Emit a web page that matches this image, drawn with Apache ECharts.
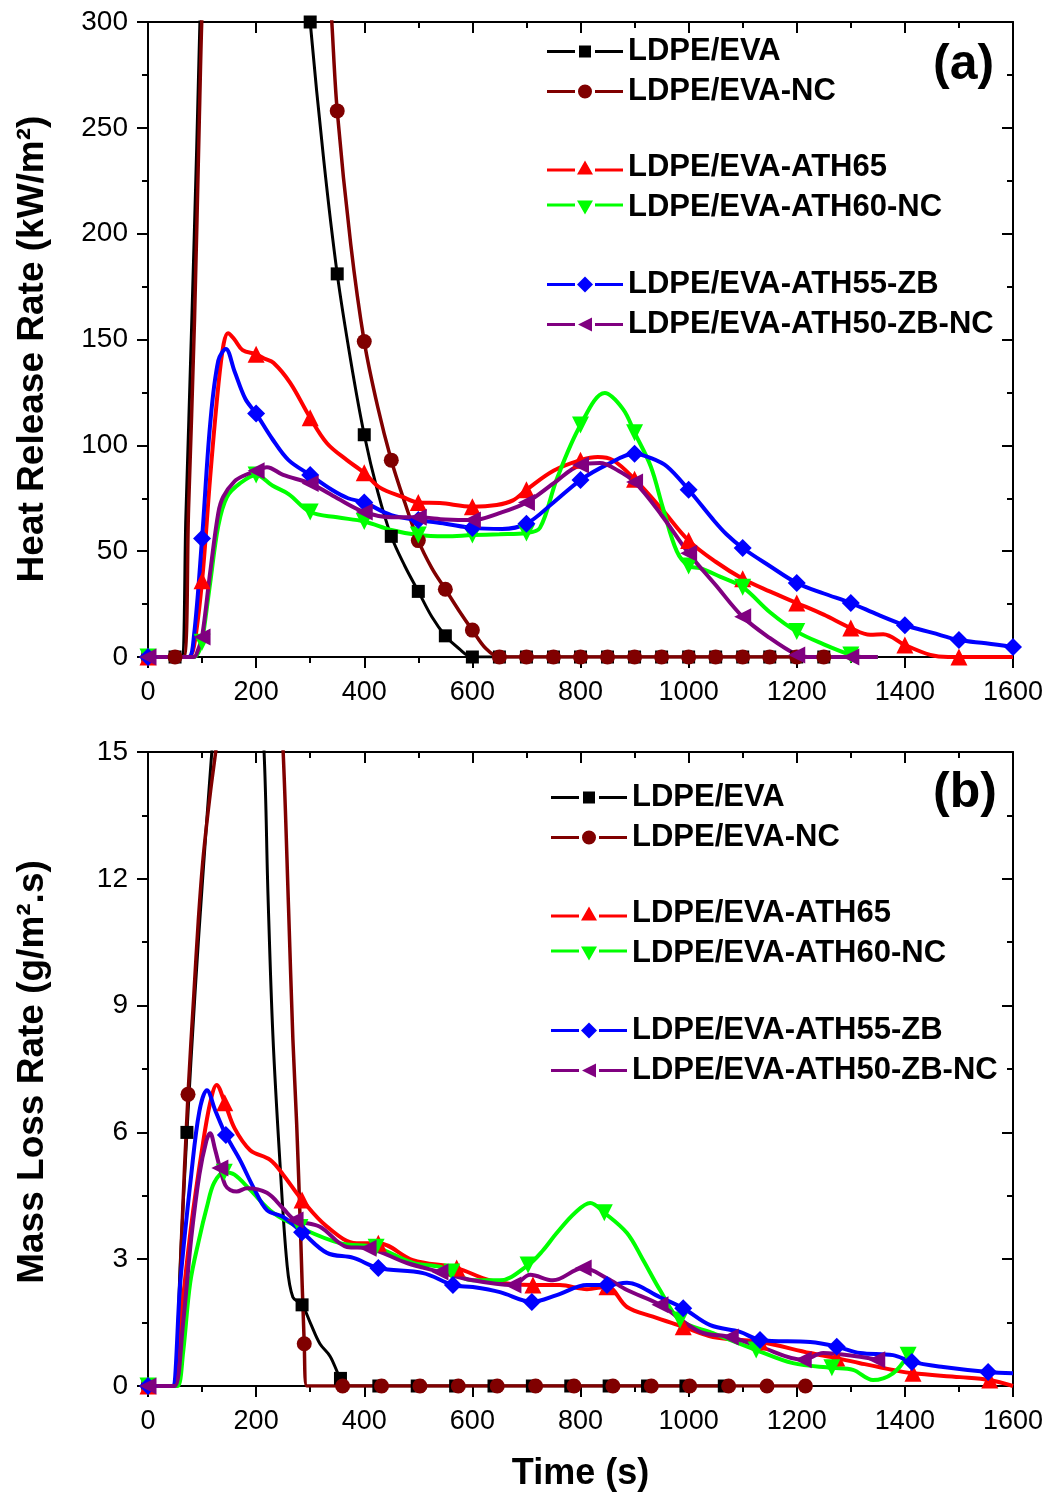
<!DOCTYPE html>
<html><head><meta charset="utf-8">
<script src="https://cdn.jsdelivr.net/npm/echarts@6/dist/echarts.min.js"></script>
<style>html,body{margin:0;padding:0;background:#fff}#c{width:1052px;height:1499px}</style>
</head><body><div id="c"></div>
<script>
// ---------- names ----------
const names = ['LDPE/EVA','LDPE/EVA-NC','LDPE/EVA-ATH65','LDPE/EVA-ATH60-NC','LDPE/EVA-ATH55-ZB','LDPE/EVA-ATH50-ZB-NC'];
const titleA = 'Heat Release Rate (kW/m²)';
const titleB = 'Mass Loss Rate (g/m².s)';
const titleX = 'Time (s)';

// ---------- (a) Heat release rate ----------
const hrrT_eva   = [0,50,62,70,81,90,96,100,110,130,150,170,200,230,250,270,300,325,350,375,400,425,450,475,500,525,550,575,600,650,700,750,800,850,900,950,1000,1050,1100,1150,1200,1250];
const hrrV_eva   = [0,0,0,66,159,240,300,335,410,520,590,620,600,520,460,390,300,235,181,140,105,78,57,43,31,19,10,4,0,0,0,0,0,0,0,0,0,0,0,0,0,0];
const hrrM_eva   = [0,50,100,150,200,250,300,350,400,450,500,550,600,650,700,750,800,850,900,950,1000,1050,1100,1150,1200,1250];

const hrrT_nc    = [0,50,66,75,86,95,100,110,130,150,170,200,230,250,275,300,320,340,350,375,400,425,450,475,500,525,550,575,600,625,650,700,750,800,850,900,950,1000,1050,1100,1150,1200,1250];
const hrrV_nc    = [0,0,0,70,159,255,305,365,470,560,610,640,620,590,540,470,385,300,258,195,149,118,93,73,55,42,32,22,12.7,4,0,0,0,0,0,0,0,0,0,0,0,0,0];
const hrrM_nc    = [0,50,100,150,200,250,300,350,400,450,500,550,600,650,700,750,800,850,900,950,1000,1050,1100,1150,1200,1250];

const hrrT_ath65 = [0,50,75,85,100,115,130,140,148,160,175,200,215,232,263,300,331,368,400,429,472,500,540,600,645,675,700,750,800,832,860,900,950,1000,1050,1100,1150,1200,1250,1300,1336,1360,1400,1447,1480,1500,1550,1600];
const hrrV_ath65 = [0,0,0,5,36,85,128,148,153,150,145,143,141,139,129.5,113,101,93,87,80,75.5,73,72.7,71,71.8,74,79,88,93,94.5,93,84,70,55,45,37,31,25.5,20,13.7,10.5,10.8,5.7,1,0,0,0,0];
const hrrM_ath65 = [0,100,200,300,400,500,600,700,800,900,1000,1100,1200,1300,1400,1500];

const hrrT_ath60 = [0,50,85,95,100,115,130,146,170,200,230,260,300,350,400,450,500,550,600,650,700,725,756,800,845,879,900,930,953,978,1000,1021,1058,1100,1151,1200,1250,1300,1320,1350];
const hrrV_ath60 = [0,0,0,3,7,35,62,75.6,82,86,81,77,68.5,66,64,60,57.6,57,57.6,58,58.6,61,84,109.6,124.7,117,106,90,70,50,43,42,38,33,21,12,6,1,0,0];
const hrrM_ath60 = [0,100,200,300,400,500,600,700,800,900,1000,1100,1200,1300];

const hrrT_ath55 = [0,50,75,85,100,115,130,144,160,180,200,230,260,300,340,370,400,450,500,550,600,655,700,750,800,850,900,930,960,1000,1045,1070,1100,1150,1200,1250,1300,1350,1400,1450,1500,1550,1600];
const hrrV_ath55 = [0,0,0,10,56,110,140,145.5,135,122,115,103,93,86,79,75,73,67,64.7,63,61,60.5,63,73,83.6,91,96,94,90,79,65,58,51.5,43,35,30,25.5,20,15,11.5,8,6.5,4.7];
const hrrM_ath55 = [0,100,200,300,400,500,600,700,800,900,1000,1100,1200,1300,1400,1500,1600];

const hrrT_ath50 = [0,50,85,92,100,115,130,139,160,180,200,220,250,300,350,400,450,500,550,600,650,700,750,800,836,870,900,950,1000,1050,1100,1150,1200,1220,1250,1300,1350];
const hrrV_ath50 = [0,0,0,3,9.5,40,68,75.6,83,86,88,89.7,86,82,75,68.5,66,66,65,64.7,68,73,82,90.7,91.6,88,82.7,67,49,34,19,9,1,0,0,0,0];
const hrrM_ath50 = [0,100,200,300,400,500,600,700,800,900,1000,1100,1200,1300];

// ---------- (b) Mass loss rate ----------
const mlrT_eva   = [0,40,48,60,72,87,100,118,143,165,190,214,222,231,244,257,268,285,300,318,337,356,370,427,498,569,640,711,782,853,924,995,1066];
const mlrV_eva   = [0,0,0,3,6.0,9.3,11.8,15,19,21,20,15.2,11.6,8.3,5.3,2.9,2.1,1.92,1.5,1.0,0.7,0.18,0,0,0,0,0,0,0,0,0,0,0];
const mlrM_eva   = [0,72,143,214,285,356,427,498,569,640,711,782,853,924,995,1066];

const mlrT_nc    = [0,45,52,62,74,85,93,102,115,127,146,170,200,217,235,250,260,268,275,282,289,294,360,432,503,574,646,717,788,860,931,1002,1074,1145,1216];
const mlrV_nc    = [0,0,0,3.5,6.9,9.3,11.0,12.5,14.0,15.2,17.5,19.5,21,20.5,18.5,15,11.3,8.2,6.2,3.7,1.0,0,0,0,0,0,0,0,0,0,0,0,0,0,0];
const mlrM_nc    = [0,74,146,217,289,360,432,503,574,646,717,788,860,931,1002,1074,1145,1216];

const mlrT_ath65 = [0,40,48,60,80,100,115,127,142,160,189,226,250,285,331,386,426,490,571,633,712,762,812,849,886,934,990,1045,1132,1225,1274,1317,1378,1415,1502,1557,1600];
const mlrV_ath65 = [0,0,0,1.5,3.8,5.6,6.7,7.12,6.7,6.1,5.58,5.35,5.0,4.4,3.77,3.38,3.38,2.98,2.79,2.5,2.39,2.39,2.29,2.35,1.87,1.64,1.4,1.16,1.04,0.78,0.66,0.54,0.38,0.3,0.21,0.14,0];
const mlrM_ath65 = [0,142,285,426,571,712,849,990,1132,1274,1415,1557];

const mlrT_ath60 = [0,45,55,65,78,95,109,122,141,160,189,231,281,355,422,490,540,562,601,651,703,730,756,790,818,844,886,915,947,984,1045,1125,1193,1265,1304,1341,1378,1406];
const mlrV_ath60 = [0,0,0,0.8,2.44,3.5,4.24,4.8,5.06,5.0,4.64,4.1,3.75,3.38,3.28,2.91,2.82,2.7,2.5,2.5,2.86,3.2,3.62,4.1,4.33,4.1,3.62,3.0,2.27,1.56,1.25,0.85,0.54,0.43,0.38,0.14,0.3,0.73];
const mlrM_ath60 = [0,141,281,422,562,703,844,984,1125,1265,1406];

const mlrT_ath55 = [0,35,45,60,80,95,109,125,144,170,195,220,250,285,331,380,426,509,564,601,651,710,756,812,849,886,947,990,1040,1095,1132,1225,1274,1317,1378,1413,1471,1554,1600];
const mlrV_ath55 = [0,0,0,2.5,5.0,6.5,7.0,6.5,5.94,5.35,4.7,4.16,4.0,3.64,3.15,3.03,2.79,2.67,2.39,2.34,2.22,1.99,2.15,2.39,2.39,2.44,2.1,1.84,1.44,1.28,1.09,1.04,0.93,0.78,0.73,0.57,0.45,0.33,0.3];
const mlrM_ath55 = [0,144,285,426,564,710,849,990,1132,1274,1413,1554];

const mlrT_ath50 = [0,40,50,65,80,95,108,115,124,133,143,152,164,183,220,250,272,318,368,407,479,540,601,675,707,749,805,849,886,947,1021,1077,1132,1212,1249,1317,1348];
const mlrV_ath50 = [0,0,0,1.5,3.5,5.0,5.8,5.98,5.6,5.16,4.75,4.64,4.6,4.68,4.57,4.2,3.93,3.77,3.29,3.26,2.91,2.7,2.5,2.39,2.63,2.5,2.79,2.55,2.27,1.92,1.28,1.16,0.93,0.62,0.78,0.69,0.62];
const mlrM_ath50 = [0,133,272,407,540,675,805,947,1077,1212,1348];

// ---------- styles ----------
const colors  = ['#000000','#800000','#ff0000','#00ff00','#0000ff','#800080'];
const symbols = ['rect','circle','triangle','triangle','diamond','triangle'];
const rots    = [0,0,0,180,0,90];
const sizes   = [13,15,17,17,18,17];
const widths  = [3,3.5,4,4,4,4];
// legend icons: line segment, gap, marker, gap, line segment (76 px wide)
const legendIcons = [
  'path://M0,4.5H28V7.5H0Z M32,0H44V12H32Z M48,4.5H76V7.5H48Z',
  'path://M0,5.5H28V8.5H0Z M45,7A7,7 0 1,1 31,7A7,7 0 1,1 45,7Z M48,5.5H76V8.5H48Z',
  'path://M0,8H28V11H0Z M38,0L46,14L30,14Z M48,8H76V11H48Z',
  'path://M0,3H28V6H0Z M30,0L46,0L38,14Z M48,3H76V6H48Z',
  'path://M0,6.5H28V9.5H0Z M38,0L46,8L38,16L30,8Z M48,6.5H76V9.5H48Z',
  'path://M0,5.5H28V8.5H0Z M31,7L45,0L45,14Z M48,5.5H76V8.5H48Z'
];

function build(times, values, marks) {
  const ms = new Set(marks);
  return times.map((t, i) => ms.has(t) ? { value: [t, values[i]] } : { value: [t, values[i]], symbol: 'none' });
}

const hrrSets = [[hrrT_eva,hrrV_eva,hrrM_eva],[hrrT_nc,hrrV_nc,hrrM_nc],[hrrT_ath65,hrrV_ath65,hrrM_ath65],[hrrT_ath60,hrrV_ath60,hrrM_ath60],[hrrT_ath55,hrrV_ath55,hrrM_ath55],[hrrT_ath50,hrrV_ath50,hrrM_ath50]];
const mlrSets = [[mlrT_eva,mlrV_eva,mlrM_eva],[mlrT_nc,mlrV_nc,mlrM_nc],[mlrT_ath65,mlrV_ath65,mlrM_ath65],[mlrT_ath60,mlrV_ath60,mlrM_ath60],[mlrT_ath55,mlrV_ath55,mlrM_ath55],[mlrT_ath50,mlrV_ath50,mlrM_ath50]];

function mkSeries(sets, xi, yi) {
  return sets.map((s, k) => ({
    name: names[k], type: 'line', xAxisIndex: xi, yAxisIndex: yi,
    data: build(s[0], s[1], s[2]),
    smooth: 0.35, clip: true,
    symbol: symbols[k], symbolSize: sizes[k], symbolRotate: rots[k], showAllSymbol: true,
    lineStyle: { color: colors[k], width: widths[k] },
    itemStyle: { color: colors[k] },
    emphasis: { disabled: true }
  }));
}

const FONT = "'Liberation Sans', Arial, sans-serif";
const black = '#000';
function xAxis(grid, pos, name) {
  const bottom = pos === 'bottom';
  return {
    type: 'value', gridIndex: grid, position: pos, min: 0, max: 1600, interval: 200,
    axisLine: { onZero: false, lineStyle: { color: black, width: 2 } },
    axisTick: { inside: !bottom, length: 11, lineStyle: { color: black, width: 2 } },
    minorTick: { show: true, splitNumber: 2, length: 6, lineStyle: { color: black, width: 2 } },
    splitLine: { show: false }, minorSplitLine: { show: false },
    axisLabel: { show: bottom, fontSize: 27, color: black, margin: 22, fontFamily: FONT, formatter: v => String(v) },
    name: name || '', nameLocation: 'middle', nameGap: 70,
    nameTextStyle: { fontSize: 36, fontWeight: 'bold', color: black, fontFamily: FONT }
  };
}
function yAxis(grid, pos, max, interval) {
  const left = pos === 'left';
  return {
    type: 'value', gridIndex: grid, position: pos, min: 0, max: max, interval: interval,
    axisLine: { onZero: false, lineStyle: { color: black, width: 2 } },
    axisTick: { inside: !left, length: 11, lineStyle: { color: black, width: 2 } },
    minorTick: { show: true, splitNumber: 2, length: 6, lineStyle: { color: black, width: 2 } },
    splitLine: { show: false }, minorSplitLine: { show: false },
    axisLabel: { show: left, fontSize: 28, color: black, margin: 20, fontFamily: FONT, formatter: v => String(v) }
  };
}

function legend(idx, left, top) {
  return {
    data: idx.map(i => ({ name: names[i], icon: legendIcons[i] })),
    orient: 'vertical', left: left, top: top, itemGap: 9, padding: 0,
    itemWidth: 76, itemHeight: 20, selectedMode: false, symbolKeepAspect: true,
    textStyle: { fontSize: 31, fontWeight: 'bold', color: black, lineHeight: 30, fontFamily: FONT }
  };
}

const option = {
  animation: false,
  backgroundColor: '#fff',
  textStyle: { fontFamily: FONT },
  grid: [
    { left: 148, top: 22, width: 865, height: 635 },
    { left: 148, top: 752, width: 865, height: 634 }
  ],
  xAxis: [ xAxis(0,'bottom'), xAxis(0,'top'), xAxis(1,'bottom',titleX), xAxis(1,'top') ],
  yAxis: [ yAxis(0,'left',300,50), yAxis(0,'right',300,50), yAxis(1,'left',15,3), yAxis(1,'right',15,3) ],
  legend: [
    legend([0,1], 547, 36), legend([2,3], 547, 152), legend([4,5], 547, 269),
    legend([0,1], 551, 782), legend([2,3], 551, 898), legend([4,5], 551, 1015)
  ],
  graphic: [
    { type: 'text', left: 933, top: 40, style: { text: '(a)', font: "bold 50px 'Liberation Sans', Arial", fill: black } },
    { type: 'text', left: 933, top: 768, style: { text: '(b)', font: "bold 50px 'Liberation Sans', Arial", fill: black } },
    { type: 'text', x: 33, y: 349, rotation: Math.PI / 2,
      style: { text: titleA, font: "bold 37px 'Liberation Sans', Arial", fill: black, align: 'center', verticalAlign: 'middle' } },
    { type: 'text', x: 33, y: 1072, rotation: Math.PI / 2,
      style: { text: titleB, font: "bold 37px 'Liberation Sans', Arial", fill: black, align: 'center', verticalAlign: 'middle' } }
  ],
  series: mkSeries(hrrSets, 0, 0).concat(mkSeries(mlrSets, 2, 2))
};

const chart = echarts.init(document.getElementById('c'), null, { renderer: 'canvas' });
chart.setOption(option);
</script></body></html>
